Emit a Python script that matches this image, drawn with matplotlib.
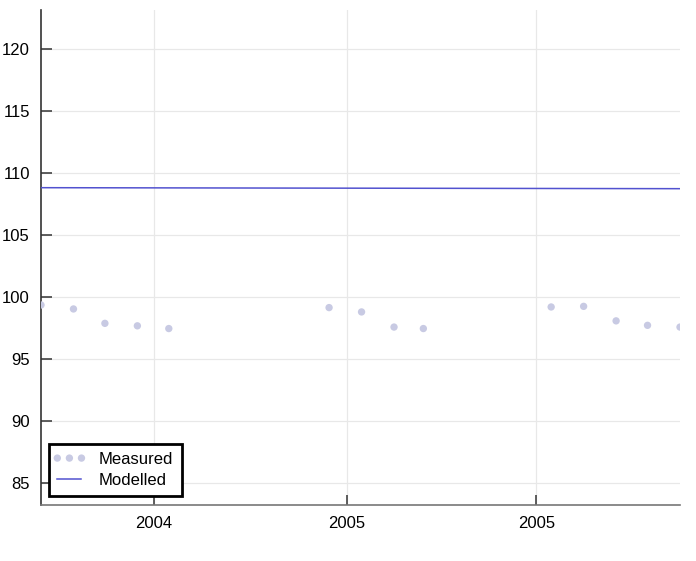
import numpy as np
import matplotlib
matplotlib.use("Agg")
import matplotlib.pyplot as plt
import matplotlib.dates as mdates
from matplotlib.legend_handler import HandlerPathCollection
from matplotlib.collections import PathCollection

plt.rcParams['font.family'] = ['Liberation Sans', 'DejaVu Sans']

# Measured samples (monthly, mid-month)
measured_dates = np.array([
    "2004-03-15", "2004-04-15", "2004-05-15", "2004-06-15", "2004-07-15",
    "2004-12-15", "2005-01-15", "2005-02-15", "2005-03-15",
    "2005-07-15", "2005-08-15", "2005-09-15", "2005-10-15", "2005-11-15",
], dtype="datetime64[D]")
measured_values = [99.38, 99.06, 97.90, 97.70, 97.48,
                   99.17, 98.82, 97.60, 97.48,
                   99.22, 99.27, 98.10, 97.74, 97.60]

# Modelled trend
modelled_dates = np.array(["2004-03-15", "2005-11-15"], dtype="datetime64[D]")
modelled_values = [108.84, 108.76]

y_ticks = [85, 90, 95, 100, 105, 110, 115, 120]

fig = plt.figure(figsize=(6.96, 5.61), dpi=100)
ax = fig.add_axes([41 / 696, 1 - 505 / 561, 639 / 696, 495 / 561])

ax.scatter(measured_dates.astype("O"), measured_values, s=28, color="#c8cae3",
           edgecolors="none", label="Measured", zorder=3)
ax.plot(modelled_dates.astype("O"), modelled_values, color="#5252cf", lw=1.1,
        label="Modelled", zorder=4)

ax.set_xlim(modelled_dates[0].astype("O"), modelled_dates[-1].astype("O"))
ax.set_ylim(83.25, 123.17)
ax.set_yticks(y_ticks)

ax.xaxis.set_major_locator(mdates.MonthLocator(bymonth=[1, 7]))
ax.xaxis.set_major_formatter(mdates.DateFormatter("%Y"))

ax.grid(True, color="#e8e8e8", lw=0.9)
ax.set_axisbelow(True)

for s in ("top", "right"):
    ax.spines[s].set_visible(False)
ax.spines["left"].set_color("#333333")
ax.spines["bottom"].set_color("#777777")
ax.spines["left"].set_linewidth(1.2)
ax.spines["bottom"].set_linewidth(1.2)

ax.tick_params(axis="y", direction="in", length=8, width=1.1, color="#333333",
               labelsize=12, pad=8)
ax.tick_params(axis="x", direction="in", length=7.5, width=1.1, color="#333333",
               labelsize=12, pad=8)

leg = ax.legend(loc="lower left", bbox_to_anchor=(0.0125, 0.018), borderaxespad=0,
                fontsize=12, fancybox=False, framealpha=1, scatterpoints=3,
                scatteryoffsets=[0.5], handlelength=1.45, handletextpad=1.05,
                borderpad=0.5, labelspacing=0.35,
                handler_map={PathCollection: HandlerPathCollection(marker_pad=0)})
leg.get_frame().set_edgecolor("black")
leg.get_frame().set_linewidth(2.0)

fig.savefig("out.png", dpi=100)
